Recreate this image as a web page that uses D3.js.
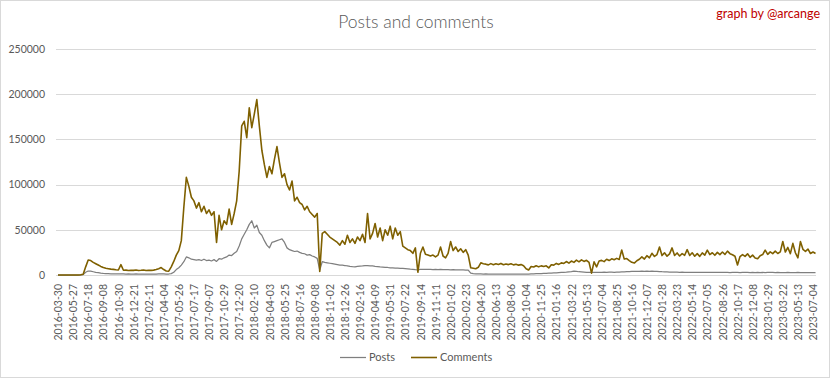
<!DOCTYPE html>
<html><head><meta charset="utf-8">
<script src="https://cdn.jsdelivr.net/npm/d3@7"></script>
<style>body{margin:0;background:#fff} svg{display:block}</style>
</head><body>
<svg id="c" width="831" height="379"></svg>
<script>
const tickLabels = ["2016-03-30","2016-05-27","2016-07-18","2016-09-08","2016-10-30","2016-12-21",
"2017-02-11","2017-04-04","2017-05-26","2017-07-17","2017-09-07","2017-10-29","2017-12-20",
"2018-02-10","2018-04-03","2018-05-25","2018-07-16","2018-09-08","2018-11-02","2018-12-26",
"2019-02-16","2019-04-09","2019-05-31","2019-07-22","2019-09-14","2019-11-11",
"2020-01-02","2020-02-23","2020-04-20","2020-06-13","2020-08-06","2020-10-04","2020-11-25",
"2021-01-16","2021-03-22","2021-05-13","2021-07-04","2021-08-25","2021-10-16","2021-12-07",
"2022-01-28","2022-03-23","2022-05-14","2022-07-05","2022-08-26","2022-10-17","2022-12-08",
"2023-01-29","2023-03-22","2023-05-13","2023-07-04"];

// sampled values (6 samples per tick-label interval)
const posts = [
0,0,0,0,0,0,0,0,0,0,
500,3000,4400,4200,3600,3000,2500,2000,1700,1500,
1400,1300,1300,1200,1200,1300,1200,1100,1200,1100,
1100,1200,1100,1100,1000,1100,1100,1000,1100,1100,
1200,1300,1200,1100,1100,1500,3000,6000,8000,11000,
14700,20000,19000,17500,17000,16500,17000,16000,17500,16000,
16500,15500,17000,15000,18000,17500,19000,20000,22000,21500,
24000,26000,32000,40000,45000,50000,56000,60000,52000,55000,
47000,44000,38000,33000,30000,36000,37000,38000,39000,40000,
36000,30000,28000,27000,26000,26500,25000,24000,23500,22000,
22500,21000,20000,18400,5500,14700,14000,13500,13000,12500,
12000,11500,11000,10800,10500,10000,9500,9200,9000,9500,
9800,10000,10300,10500,10200,10000,9600,9300,9000,8800,
8500,8300,8000,7800,7600,7500,7400,7200,7000,6800,
6500,6300,6000,5800,6200,6300,6200,6100,6200,6000,
6100,6000,6100,5900,6000,5900,5800,5900,5700,5800,
5600,5700,5500,5400,2000,1500,1300,1200,1200,1100,
1200,1100,1100,1000,1100,1000,1100,1000,1000,1100,
1000,1000,900,1000,900,1000,900,1000,1200,1300,
1400,1500,1600,1800,1900,2000,2100,2300,2400,2600,
2800,3000,3200,3500,3800,4300,4000,3600,3400,3200,
3000,2900,2800,2900,2800,2900,3000,3100,3000,3200,
3100,3000,3200,3300,3500,3400,3600,3800,4000,3900,
4100,4000,4200,4000,4400,4000,4400,3900,4000,3800,
3600,3500,3400,3300,3200,3100,3200,3000,3100,3000,
3000,2900,3000,2900,3000,2800,2900,3000,2900,2800,
2900,2800,2900,3000,2800,2900,2800,2700,2800,2900,
2800,2700,2800,2900,2800,2700,2800,2700,2800,2700,
2800,2700,2800,2900,2800,2700,2800,2700,2600,2700,
2800,2700,2600,2700,2800,2700,2600,2700,2600,2700,
2600,2700];

const comments = [
0,0,0,0,0,0,0,0,0,300,
800,9000,16500,16000,14000,12500,11000,9500,8200,7500,
7000,6500,6200,5800,5500,11500,5200,5400,5000,5300,
5100,5500,4900,5200,5600,5000,5300,5100,5400,6000,
7000,8200,6000,4500,4200,9000,15000,22000,27000,38000,
75000,108000,98000,86000,82000,74000,80000,70000,76000,68000,
72000,66000,70000,36000,66000,50000,60000,56000,73000,56000,
68000,82000,115000,165000,170000,152000,185000,163000,178000,194000,
165000,138000,122000,108000,120000,112000,128000,142000,124000,108000,
112000,100000,94000,104000,82000,86000,80000,78000,72000,76000,
70000,67000,64000,68000,4000,46000,48000,45000,42000,40000,
38000,36000,33000,38000,34000,44000,36000,40000,35000,42000,
38000,45000,36000,68000,40000,46000,57000,42000,52000,38000,
50000,44000,54000,40000,52000,44000,48000,32000,30000,28000,
27000,24000,30000,3000,24000,31000,23000,22000,21000,22000,
20000,22000,31000,21000,19000,24000,37000,27000,31000,26000,
29000,25000,28000,22000,8000,7500,7000,8500,13500,12500,
12000,11200,12600,11400,12400,11600,12800,11300,12200,11500,
12400,11200,11900,10900,11500,10300,7000,5500,9400,8800,
10300,9000,10100,9400,10200,7800,11400,10900,12800,11700,
13400,12800,14900,13200,15400,14000,16400,14600,16800,15000,
16300,14000,2000,14500,9000,15500,16200,14800,17400,16000,
17900,16800,18400,17200,27600,17600,18200,16000,14000,13200,
15800,17400,20000,17600,21400,19000,24000,20500,22600,31000,
21500,24600,20800,23400,30000,21600,24400,21000,23600,21800,
28000,21600,24600,20800,23600,20600,24400,22000,27500,22600,
24600,21800,25000,22600,25400,22800,26400,23600,22400,20800,
11000,20400,22600,20600,23400,19600,22000,18800,18000,21400,
22600,27500,22800,25600,23600,26400,23800,25600,37000,25400,
30500,23600,35000,24600,19000,37000,28400,26200,28600,23800,
25400,23800];

const yTicks = [0,50000,100000,150000,200000,250000];
const seriesNames = ["Posts","Comments"];
const seriesColors = ["#7f7f7f","#7f6000"];
const samplesPerTick = 6;

const font = "Lato, 'Open Sans', sans-serif";
const textColor = "#595959";
const svg = d3.select("#c");

svg.append("rect").attr("x",0.5).attr("y",0.5).attr("width",829).attr("height",377)
  .attr("fill","#fff").attr("stroke","#d9d9d9");

const x = d3.scaleLinear().domain([0,(tickLabels.length-1)*samplesPerTick]).range([58,813]);
const y = d3.scaleLinear().domain([0,250000]).range([275,49]);

// gridlines
svg.append("g").selectAll("line").data(yTicks).join("line")
  .attr("x1",56).attr("x2",816)
  .attr("y1",d=>Math.round(y(d))+0.5).attr("y2",d=>Math.round(y(d))+0.5)
  .attr("stroke","#d9d9d9").attr("stroke-width",1);

// y axis labels
const gy = svg.append("g").attr("transform","translate(45,0)")
  .call(d3.axisLeft(y).tickValues(yTicks).tickSize(0).tickPadding(0).tickFormat(d3.format("d")));
gy.select(".domain").remove();
gy.selectAll("text").attr("font-family",font).attr("font-size",10.5).attr("fill",textColor);

// x axis labels
const gx = svg.append("g").attr("transform","translate(0,275)")
  .call(d3.axisBottom(x).tickValues(tickLabels.map((_,k)=>k*samplesPerTick))
    .tickFormat((d,k)=>tickLabels[k]).tickSize(0));
gx.select(".domain").remove();
gx.selectAll("text").attr("transform","rotate(-90)").attr("text-anchor","end")
  .attr("x",-9).attr("y",0).attr("dy","0.35em")
  .attr("font-family",font).attr("font-size",10.5).attr("fill",textColor);

// lines
const line = d3.line().x((d,i)=>x(i)).y(d=>y(d));
[posts, comments].forEach((s,j)=>{
  svg.append("path").datum(s).attr("d",line).attr("fill","none")
    .attr("stroke",seriesColors[j]).attr("stroke-width", j===1?1.6:1.25)
    .attr("stroke-linejoin","round");
});

// title
svg.append("text").attr("x",416).attr("y",28).attr("text-anchor","middle")
  .attr("font-family",font).attr("font-size",17.5).attr("font-weight",300).attr("fill",textColor)
  .text("Posts and comments");
svg.append("text").attr("x",820).attr("y",18).attr("text-anchor","end")
  .attr("font-family",font).attr("font-size",12.5).attr("fill","#c00000")
  .text("graph by @arcange");

// legend
const legendX = [340, 411];
const lg = svg.append("g");
seriesNames.forEach((n,j)=>{
  lg.append("line").attr("x1",legendX[j]).attr("x2",legendX[j]+26).attr("y1",357.5).attr("y2",357.5)
    .attr("stroke",seriesColors[j]).attr("stroke-width",j===1?1.6:1.25);
  lg.append("text").attr("x",legendX[j]+29).attr("y",357).attr("dy","0.35em")
    .attr("font-family",font).attr("font-size",11).attr("fill",textColor).text(n);
});
</script>
</body></html>
